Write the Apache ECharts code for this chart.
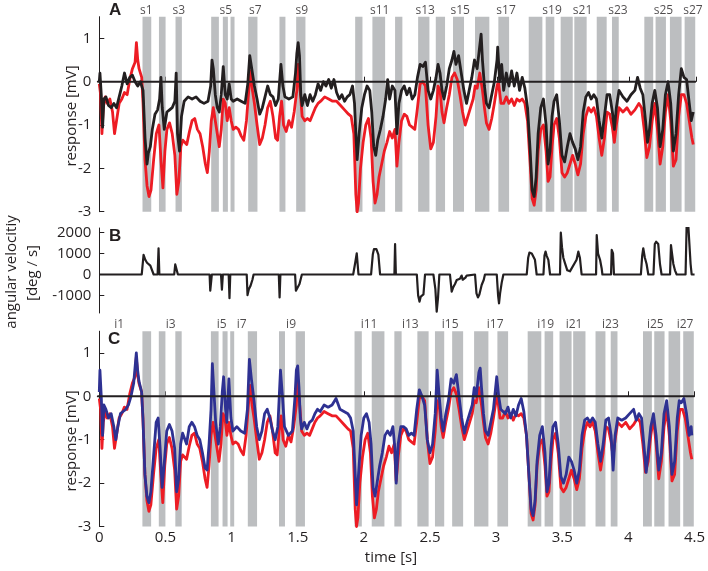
<!DOCTYPE html>
<html><head><meta charset="utf-8">
<script src="https://cdn.jsdelivr.net/npm/echarts@6/dist/echarts.min.js"></script>
<style>html,body{margin:0;padding:0;background:#fff}#c{width:708px;height:571px}</style>
</head><body><div id="c"></div>
<script>
// ---- data ----
const bands = [[0.326,0.392],[0.450,0.500],[0.575,0.623],[0.844,0.902],[0.932,0.970],[0.990,1.020],[1.123,1.193],[1.359,1.404],[1.485,1.555],[1.930,1.985],[2.060,2.156],[2.231,2.286],[2.405,2.490],[2.538,2.608],[2.668,2.751],[2.834,2.942],[3.010,3.091],[3.239,3.342],[3.367,3.432],[3.480,3.571],[3.583,3.676],[3.752,3.827],[3.867,3.918],[4.111,4.178],[4.196,4.274],[4.304,4.392],[4.415,4.495]];
const sLabelText = ['s1','s3','s5','s7','s9','s11','s13','s15','s17','s19','s21','s23','s25','s27'];
const sLabelTime = [0.354,0.600,0.954,1.176,1.527,2.115,2.458,2.722,3.068,3.415,3.645,3.912,4.255,4.478];
const iLabelText = ['i1','i3','i5','i7','i9','i11','i13','i15','i17','i19','i21','i23','i25','i27'];
const iLabelTime = [0.15,0.54,0.925,1.076,1.45,2.04,2.352,2.653,2.993,3.375,3.59,3.865,4.204,4.429];
const xTicks = [0,0.5,1,1.5,2,2.5,3,3.5,4,4.5];
const respTicks = [-3,-2,-1,0,1];
const velTicks = [-1000,0,1000,2000];

const redTrace = [[0,-0.05],[0.01,-0.3],[0.02,-1.2],[0.03,-0.6],[0.045,-0.35],[0.06,-0.5],[0.08,-0.4],[0.1,-0.7],[0.115,-1.2],[0.13,-0.9],[0.15,-0.5],[0.17,-0.4],[0.19,-0.25],[0.21,-0.3],[0.23,0.05],[0.25,0.3],[0.27,0.45],[0.28,0.9],[0.29,0.5],[0.3,0.3],[0.32,0.1],[0.33,-0.5],[0.345,-1.8],[0.36,-2.4],[0.375,-2.65],[0.39,-2.5],[0.41,-1.8],[0.43,-1.2],[0.45,-1.0],[0.465,-1.8],[0.48,-2.45],[0.495,-1.6],[0.51,-1.1],[0.53,-0.95],[0.55,-1.2],[0.57,-1.7],[0.585,-2.6],[0.6,-2.3],[0.615,-1.5],[0.63,-1.35],[0.66,-1.45],[0.68,-1.15],[0.7,-0.9],[0.72,-0.85],[0.74,-1.1],[0.76,-1.2],[0.78,-1.5],[0.8,-1.9],[0.815,-2.1],[0.83,-1.6],[0.845,-0.9],[0.86,-0.6],[0.875,-0.9],[0.89,-1.2],[0.905,-1.5],[0.92,-1.1],[0.935,-0.4],[0.95,-0.5],[0.965,-0.9],[0.98,-0.6],[0.995,-0.9],[1.01,-1.1],[1.03,-1.05],[1.05,-1.1],[1.07,-1.25],[1.09,-1.35],[1.11,-0.9],[1.13,-0.1],[1.14,0.25],[1.155,-0.2],[1.17,-0.5],[1.19,-1.0],[1.21,-1.45],[1.23,-1.3],[1.25,-1.0],[1.27,-0.6],[1.29,-0.45],[1.31,-0.8],[1.33,-1.3],[1.345,-1.35],[1.36,-0.8],[1.375,-0.45],[1.39,-1.0],[1.41,-1.15],[1.43,-0.9],[1.45,-1.05],[1.47,-0.7],[1.49,-0.2],[1.5,0.4],[1.515,-0.2],[1.53,-0.8],[1.55,-0.9],[1.57,-0.85],[1.59,-0.9],[1.61,-0.75],[1.63,-0.6],[1.65,-0.5],[1.67,-0.45],[1.7,-0.35],[1.73,-0.4],[1.76,-0.45],[1.79,-0.45],[1.82,-0.55],[1.85,-0.65],[1.88,-0.75],[1.9,-0.8],[1.92,-1.2],[1.935,-2.6],[1.945,-3.0],[1.955,-2.8],[1.97,-2.0],[1.99,-1.4],[2.01,-1.0],[2.03,-0.85],[2.05,-1.3],[2.065,-2.3],[2.08,-2.8],[2.095,-2.6],[2.11,-2.2],[2.13,-1.9],[2.15,-1.6],[2.17,-1.4],[2.19,-1.15],[2.21,-1.3],[2.23,-1.1],[2.245,-1.95],[2.26,-1.4],[2.28,-0.9],[2.3,-0.75],[2.32,-0.8],[2.34,-1.0],[2.36,-1.05],[2.38,-1.1],[2.4,-0.6],[2.42,-0.05],[2.44,0.0],[2.46,-0.1],[2.48,-1.0],[2.5,-1.55],[2.52,-1.4],[2.54,-0.8],[2.555,-0.1],[2.57,-0.2],[2.585,-0.7],[2.6,-0.95],[2.62,-0.6],[2.64,-0.3],[2.66,0.1],[2.68,0.2],[2.7,0.05],[2.72,-0.3],[2.74,-0.7],[2.76,-1.0],[2.78,-0.8],[2.8,-0.6],[2.82,-0.4],[2.835,-0.1],[2.85,-0.15],[2.87,0.2],[2.89,-0.2],[2.905,-0.6],[2.92,-0.95],[2.94,-1.1],[2.96,-0.85],[2.98,-0.5],[3.0,-0.1],[3.01,0.0],[3.03,-0.5],[3.05,-0.5],[3.07,-0.35],[3.09,-0.5],[3.11,-0.4],[3.13,-0.55],[3.15,-0.4],[3.17,-0.45],[3.19,-0.4],[3.21,-0.5],[3.23,-0.9],[3.25,-1.9],[3.265,-2.7],[3.28,-2.85],[3.295,-2.5],[3.31,-1.6],[3.33,-1.1],[3.35,-1.0],[3.37,-1.6],[3.385,-2.3],[3.4,-2.2],[3.415,-1.5],[3.43,-1.0],[3.45,-0.85],[3.47,-1.3],[3.49,-2.1],[3.51,-2.2],[3.53,-2.1],[3.55,-1.9],[3.57,-1.7],[3.59,-1.9],[3.61,-2.15],[3.63,-1.9],[3.65,-1.2],[3.67,-0.8],[3.69,-0.6],[3.71,-0.7],[3.73,-0.6],[3.75,-0.8],[3.77,-1.3],[3.79,-1.7],[3.81,-1.3],[3.83,-0.7],[3.85,-0.75],[3.87,-1.05],[3.885,-1.4],[3.9,-1.0],[3.92,-0.6],[3.95,-0.7],[3.98,-0.6],[4.01,-0.75],[4.04,-0.65],[4.07,-0.5],[4.09,-0.6],[4.11,-1.1],[4.13,-1.75],[4.15,-1.5],[4.17,-0.9],[4.19,-0.5],[4.21,-1.1],[4.23,-1.9],[4.25,-1.5],[4.27,-0.7],[4.29,-0.3],[4.31,-0.9],[4.33,-1.95],[4.35,-1.8],[4.37,-0.8],[4.39,-0.3],[4.41,-0.3],[4.43,-0.5],[4.45,-0.9],[4.47,-1.3],[4.48,-1.45]];

const blackTrace = [[0,0],[0.005,0.2],[0.015,-0.3],[0.025,-1.05],[0.035,-0.4],[0.05,-0.35],[0.07,-0.55],[0.09,-0.6],[0.11,-0.5],[0.13,-0.6],[0.15,-0.35],[0.17,-0.1],[0.19,0.2],[0.21,-0.05],[0.23,0.1],[0.25,0.15],[0.27,0],[0.29,-0.1],[0.31,0],[0.33,-0.2],[0.345,-1.3],[0.36,-1.9],[0.37,-1.65],[0.385,-1.5],[0.4,-1.1],[0.42,-0.75],[0.44,-0.65],[0.455,-0.4],[0.465,0.1],[0.475,-0.6],[0.49,-1.1],[0.51,-0.7],[0.53,-0.65],[0.55,-0.6],[0.57,-0.45],[0.58,0.2],[0.59,-1.2],[0.605,-1.6],[0.62,-0.8],[0.64,-0.45],[0.67,-0.35],[0.7,-0.4],[0.73,-0.35],[0.76,-0.45],[0.79,-0.5],[0.82,-0.45],[0.84,-0.1],[0.85,0.5],[0.86,0.3],[0.875,-0.3],[0.89,-0.6],[0.905,-0.7],[0.92,-0.3],[0.935,0.35],[0.95,-0.3],[0.965,-0.4],[0.98,-0.05],[0.995,-0.4],[1.01,-0.45],[1.04,-0.4],[1.07,-0.45],[1.1,-0.5],[1.12,-0.05],[1.135,0.6],[1.15,0.3],[1.17,-0.1],[1.19,-0.4],[1.21,-0.75],[1.23,-0.6],[1.25,-0.35],[1.27,-0.1],[1.29,-0.3],[1.31,-0.35],[1.33,-0.55],[1.35,-0.4],[1.37,0.4],[1.385,-0.1],[1.4,-0.35],[1.43,-0.4],[1.46,-0.35],[1.48,0.2],[1.49,0.65],[1.5,0.9],[1.51,0.6],[1.52,-0.3],[1.53,-0.55],[1.55,-0.3],[1.57,-0.55],[1.59,-0.3],[1.61,-0.45],[1.63,-0.3],[1.65,-0.05],[1.67,-0.2],[1.69,0],[1.71,-0.1],[1.73,0.05],[1.75,-0.15],[1.77,0.05],[1.79,-0.25],[1.81,-0.4],[1.83,-0.3],[1.85,-0.45],[1.87,-0.35],[1.89,-0.3],[1.91,-0.1],[1.925,-0.5],[1.935,-1.2],[1.945,-1.8],[1.96,-1.2],[1.98,-0.6],[2.0,-0.3],[2.02,-0.1],[2.04,-0.2],[2.055,-0.7],[2.07,-1.5],[2.085,-1.7],[2.1,-1.35],[2.12,-1.1],[2.14,-0.8],[2.16,-0.4],[2.175,0.05],[2.19,-0.4],[2.21,-0.1],[2.23,-0.2],[2.245,-1.2],[2.26,-0.5],[2.28,-0.2],[2.3,-0.1],[2.32,-0.3],[2.34,-0.15],[2.36,-0.4],[2.38,-0.3],[2.4,0.1],[2.42,0.4],[2.44,0.35],[2.46,0.45],[2.48,-0.2],[2.5,-0.4],[2.52,-0.2],[2.54,0.1],[2.555,0.4],[2.57,0.2],[2.585,-0.2],[2.6,-0.4],[2.62,-0.1],[2.64,0.3],[2.66,0.5],[2.675,0.7],[2.69,0.4],[2.71,0.6],[2.73,0.2],[2.75,-0.2],[2.77,-0.5],[2.79,-0.2],[2.81,0.1],[2.83,0.5],[2.85,0.3],[2.865,0.7],[2.88,1.1],[2.89,0.5],[2.905,-0.1],[2.92,-0.5],[2.94,-0.6],[2.96,-0.3],[2.98,0],[3.0,0.5],[3.005,0.8],[3.02,0],[3.035,0.4],[3.05,-0.2],[3.07,0.2],[3.09,-0.1],[3.11,0.25],[3.13,-0.1],[3.15,0.2],[3.17,-0.2],[3.19,0.1],[3.21,-0.15],[3.23,-0.6],[3.25,-1.6],[3.265,-2.5],[3.28,-2.65],[3.295,-2.2],[3.31,-1.2],[3.33,-0.6],[3.35,-0.4],[3.37,-1.0],[3.385,-1.9],[3.4,-1.6],[3.415,-0.8],[3.43,-0.45],[3.45,-0.3],[3.47,-0.9],[3.49,-1.7],[3.51,-1.85],[3.53,-1.5],[3.55,-1.2],[3.57,-1.4],[3.59,-1.55],[3.61,-1.8],[3.63,-1.5],[3.65,-0.7],[3.67,-0.35],[3.69,-0.25],[3.71,-0.4],[3.73,-0.3],[3.75,-0.4],[3.77,-0.9],[3.79,-1.3],[3.81,-0.8],[3.83,-0.3],[3.85,-0.3],[3.87,-0.7],[3.885,-1.1],[3.9,-0.6],[3.92,-0.2],[3.95,-0.35],[3.98,-0.45],[4.01,-0.3],[4.04,-0.2],[4.06,0.1],[4.08,-0.15],[4.1,-0.3],[4.12,-0.9],[4.135,-1.4],[4.15,-1.1],[4.17,-0.5],[4.19,-0.2],[4.21,-0.6],[4.23,-1.5],[4.25,-1.1],[4.27,-0.3],[4.29,0],[4.31,-0.5],[4.33,-1.6],[4.35,-1.2],[4.37,-0.3],[4.39,0.3],[4.41,0.1],[4.43,0.05],[4.45,-0.5],[4.465,-0.9],[4.48,-0.7]];

const blueTrace = [[0,0.1],[0.005,0.6],[0.015,0.0],[0.025,-0.9],[0.035,-0.2],[0.05,-0.3],[0.07,-0.5],[0.09,-0.4],[0.11,-0.7],[0.125,-1.0],[0.14,-0.7],[0.16,-0.4],[0.18,-0.35],[0.2,-0.3],[0.22,-0.2],[0.24,0.0],[0.26,0.3],[0.28,1.0],[0.29,0.6],[0.3,0.35],[0.32,0.1],[0.33,-0.5],[0.345,-1.8],[0.36,-2.3],[0.375,-2.45],[0.39,-2.2],[0.41,-1.4],[0.43,-0.6],[0.445,-0.5],[0.46,-1.2],[0.475,-2.1],[0.49,-1.6],[0.51,-0.8],[0.53,-0.65],[0.55,-0.8],[0.57,-1.2],[0.585,-2.2],[0.6,-1.9],[0.615,-1.1],[0.63,-0.85],[0.66,-1.1],[0.68,-0.7],[0.7,-0.6],[0.72,-0.7],[0.74,-0.9],[0.76,-1.0],[0.78,-1.3],[0.8,-1.65],[0.815,-1.7],[0.83,-1.1],[0.845,-0.3],[0.855,0.75],[0.865,0.2],[0.88,-0.6],[0.9,-1.1],[0.915,-0.7],[0.93,0.1],[0.94,0.45],[0.955,-0.3],[0.965,-0.6],[0.98,0.4],[0.995,-0.5],[1.01,-0.8],[1.04,-0.7],[1.07,-0.8],[1.1,-0.85],[1.12,-0.3],[1.135,0.85],[1.15,0.4],[1.17,-0.1],[1.19,-0.7],[1.21,-1.0],[1.23,-0.8],[1.25,-0.4],[1.27,-0.3],[1.29,-0.5],[1.31,-0.8],[1.33,-1.0],[1.35,-0.7],[1.37,0.6],[1.385,0.0],[1.4,-0.7],[1.43,-0.9],[1.46,-0.8],[1.48,0.0],[1.49,0.6],[1.5,0.7],[1.51,0.2],[1.52,-0.5],[1.53,-0.75],[1.55,-0.6],[1.57,-0.75],[1.59,-0.6],[1.61,-0.55],[1.63,-0.4],[1.65,-0.3],[1.67,-0.35],[1.7,-0.2],[1.73,-0.25],[1.76,-0.2],[1.79,-0.05],[1.82,-0.3],[1.85,-0.35],[1.88,-0.4],[1.9,-0.5],[1.92,-0.8],[1.935,-1.8],[1.945,-2.5],[1.96,-1.8],[1.98,-0.9],[2.0,-0.5],[2.02,-0.4],[2.04,-0.6],[2.055,-1.1],[2.07,-2.1],[2.085,-2.3],[2.1,-2.0],[2.12,-1.6],[2.14,-1.3],[2.16,-0.9],[2.18,-0.8],[2.2,-0.9],[2.22,-0.7],[2.235,-1.2],[2.245,-2.0],[2.26,-1.1],[2.28,-0.7],[2.3,-0.7],[2.32,-0.75],[2.34,-0.9],[2.36,-0.85],[2.38,-0.9],[2.4,-0.3],[2.42,0.15],[2.44,0.0],[2.46,-0.2],[2.48,-1.0],[2.5,-1.3],[2.52,-1.1],[2.54,-0.4],[2.555,0.6],[2.57,0.0],[2.585,-0.5],[2.6,-0.8],[2.62,-0.4],[2.64,-0.1],[2.66,0.4],[2.68,0.3],[2.7,0.5],[2.72,0.0],[2.74,-0.5],[2.76,-0.85],[2.78,-0.6],[2.8,-0.4],[2.82,-0.2],[2.835,0.2],[2.85,0.0],[2.87,0.55],[2.88,0.65],[2.89,0.2],[2.905,-0.4],[2.92,-0.8],[2.94,-0.9],[2.96,-0.6],[2.98,-0.3],[3.0,0.3],[3.005,0.45],[3.02,0.0],[3.035,-0.3],[3.05,-0.3],[3.07,-0.4],[3.09,-0.25],[3.11,-0.5],[3.13,-0.3],[3.15,-0.45],[3.17,-0.2],[3.19,-0.05],[3.21,-0.35],[3.23,-0.9],[3.25,-1.9],[3.265,-2.6],[3.28,-2.75],[3.295,-2.4],[3.31,-1.5],[3.33,-0.9],[3.35,-0.7],[3.37,-1.3],[3.385,-2.2],[3.4,-2.0],[3.415,-1.2],[3.43,-0.7],[3.45,-0.6],[3.47,-1.1],[3.49,-1.85],[3.51,-2.0],[3.53,-1.8],[3.55,-1.4],[3.57,-1.5],[3.59,-1.7],[3.61,-2.0],[3.63,-1.7],[3.65,-0.9],[3.67,-0.55],[3.69,-0.5],[3.71,-0.6],[3.73,-0.5],[3.75,-0.6],[3.77,-1.1],[3.79,-1.5],[3.81,-1.1],[3.83,-0.55],[3.85,-0.5],[3.87,-0.9],[3.885,-1.7],[3.9,-0.9],[3.92,-0.5],[3.95,-0.55],[3.98,-0.5],[4.01,-0.4],[4.04,-0.3],[4.06,-0.55],[4.08,-0.4],[4.1,-0.5],[4.12,-1.2],[4.135,-1.75],[4.15,-1.3],[4.17,-0.7],[4.19,-0.4],[4.21,-0.9],[4.23,-1.7],[4.25,-1.3],[4.27,-0.4],[4.29,-0.1],[4.31,-0.7],[4.33,-1.8],[4.35,-1.5],[4.37,-0.5],[4.385,-0.1],[4.4,-0.15],[4.42,-0.05],[4.44,-0.4],[4.46,-0.9],[4.475,-0.7],[4.48,-0.9]];

const angVel = [[0,0],[0.32,0],[0.334,930],[0.347,700],[0.36,560],[0.372,640],[0.385,420],[0.397,380],[0.41,0],[0.44,0],[0.447,1250],[0.453,0],[0.565,0],[0.573,480],[0.586,520],[0.593,0],[0.832,0],[0.837,-770],[0.849,0],[0.918,0],[0.925,-720],[0.932,0],[0.976,0],[0.982,-1130],[0.988,0],[1.112,0],[1.118,-980],[1.128,-700],[1.14,-550],[1.155,-250],[1.164,0],[1.354,0],[1.36,-1090],[1.366,0],[1.477,0],[1.483,-770],[1.495,-700],[1.51,-450],[1.528,0],[1.915,0],[1.93,550],[1.942,1010],[1.955,0],[2.05,0],[2.063,950],[2.072,1210],[2.09,1210],[2.105,950],[2.118,0],[2.226,0],[2.231,1450],[2.237,0],[2.395,0],[2.405,-1000],[2.415,-1290],[2.425,-1050],[2.445,-950],[2.457,0],[2.52,0],[2.535,-700],[2.545,-1770],[2.555,-1100],[2.565,0],[2.645,0],[2.658,-820],[2.67,-600],[2.683,-450],[2.696,-260],[2.71,-350],[2.72,-200],[2.733,-50],[2.741,-250],[2.751,-210],[2.762,-150],[2.771,-50],[2.784,0],[2.834,0],[2.845,-900],[2.856,-1090],[2.867,-950],[2.884,-500],[2.9,-250],[2.909,0],[2.998,0],[3.008,-1000],[3.015,-1370],[3.023,-900],[3.035,-400],[3.048,0],[3.224,0],[3.235,800],[3.244,1040],[3.262,1000],[3.274,930],[3.286,700],[3.299,0],[3.35,0],[3.358,900],[3.366,1090],[3.374,900],[3.387,700],[3.4,0],[3.475,0],[3.481,1990],[3.49,1300],[3.5,800],[3.513,530],[3.53,200],[3.55,150],[3.563,100],[3.6,700],[3.613,1090],[3.625,800],[3.638,0],[3.747,0],[3.752,1880],[3.762,1000],[3.777,700],[3.789,300],[3.795,0],[3.86,0],[3.865,1170],[3.875,1000],[3.882,0],[4.085,0],[4.095,900],[4.103,1250],[4.115,800],[4.128,500],[4.141,0],[4.18,0],[4.19,1450],[4.2,1560],[4.216,1450],[4.229,500],[4.241,0],[4.305,0],[4.312,1400],[4.322,900],[4.33,500],[4.342,200],[4.355,0],[4.422,0],[4.43,2300],[4.437,2450],[4.443,2300],[4.46,500],[4.468,0],[4.49,0]];

// ---- chart ----
const FONT = '"Open Sans", sans-serif';
const TXT = '#231F20';
const RED = '#ED1C24', BLACK = '#231F20', BLUE = '#2E3192', BAND = '#BCBEC0';
const XMIN = -0.015, XMAX = 4.5;
const gridL = 97.3, gridR = 708 - 695.9;

const chart = echarts.init(document.getElementById('c'));

function xAx(gi, showLabels, show) {
  return {
    type: 'value', gridIndex: gi, min: XMIN, max: XMAX, show: show,
    axisLine: {show: true, lineStyle: {color: TXT, width: 1}},
    axisTick: {show: true, inside: true, length: 5, customValues: xTicks, lineStyle: {color: TXT}},
    axisLabel: {show: showLabels, customValues: xTicks, color: TXT, fontFamily: FONT, fontSize: 15, margin: 4},
    splitLine: {show: false}
  };
}
function yAx(gi, min, max, ticks, fs) {
  return {
    type: 'value', gridIndex: gi, min: min, max: max,
    axisLine: {show: true, lineStyle: {color: TXT, width: 1}},
    axisTick: {show: true, inside: true, length: 5, customValues: ticks, lineStyle: {color: TXT}},
    axisLabel: {show: true, customValues: ticks, color: TXT, fontFamily: FONT, fontSize: fs, margin: 6, formatter: v => String(v)},
    splitLine: {show: false}
  };
}
const bandArea = {silent: true, itemStyle: {color: BAND}, data: bands.map(b => [{xAxis: b[0]}, {xAxis: b[1]}])};
const line = (name, data, color, xi, yi, w, z) => ({
  name, type: 'line', data, xAxisIndex: xi, yAxisIndex: yi, showSymbol: false, symbol: 'none',
  lineStyle: {color, width: w, join: 'round'}, itemStyle: {color}, z, animation: false
});
const labelSeries = (texts, times, xi, yi, yv) => ({
  type: 'scatter', xAxisIndex: xi, yAxisIndex: yi, clip: false, symbolSize: 1,
  itemStyle: {color: 'rgba(0,0,0,0)'}, silent: true, animation: false, z: 6,
  labelLayout: {hideOverlap: false},
  data: times.map((t, k) => ({value: [t, yv], name: texts[k]})),
  label: {show: true, position: 'top', distance: 0, formatter: p => p.name, color: TXT, fontFamily: FONT, fontSize: 12}
});

const redA = line('redA', redTrace, RED, 0, 0, 2.8, 3); redA.markArea = bandArea;
const redC = line('redC', redTrace, RED, 2, 2, 2.8, 3); redC.markArea = bandArea;

chart.setOption({
  animation: false,
  backgroundColor: '#fff',
  grid: [
    {left: gridL, right: gridR, top: 16.7, height: 195},
    {left: gridL, right: gridR, top: 228, height: 85},
    {left: gridL, right: gridR, top: 331.2, height: 195.3}
  ],
  xAxis: [xAx(0, false, true), xAx(1, false, false), xAx(2, true, true)],
  yAxis: [yAx(0, -3, 1.5, respTicks, 15), yAx(1, -1833, 2214, velTicks, 15), yAx(2, -3, 1.5, respTicks, 15)],
  series: [
    redA,
    line('blackA', blackTrace, BLACK, 0, 0, 2.8, 4),
    line('zeroA', [[XMIN, 0], [XMAX, 0]], BLACK, 0, 0, 2, 5),
    line('vel', angVel, BLACK, 1, 1, 2.2, 4),
    redC,
    line('blueC', blueTrace, BLUE, 2, 2, 2.8, 4),
    line('zeroC', [[XMIN, 0], [XMAX, 0]], BLACK, 2, 2, 2, 5),
    labelSeries(sLabelText, sLabelTime, 0, 0, 1.5),
    labelSeries(iLabelText, iLabelTime, 2, 2, 1.5)
  ],
  graphic: [
    {type: 'text', x: 109, y: 10, style: {text: 'A', font: '900 17px "Liberation Sans", Arial', fill: TXT, textVerticalAlign: 'middle'}},
    {type: 'text', x: 109, y: 236, style: {text: 'B', font: '900 17px "Liberation Sans", Arial', fill: TXT, textVerticalAlign: 'middle'}},
    {type: 'text', x: 108, y: 339, style: {text: 'C', font: '900 17px "Liberation Sans", Arial', fill: TXT, textVerticalAlign: 'middle'}},
    {type: 'text', x: 72, y: 116, rotation: Math.PI / 2, style: {text: 'response [mV]', font: '15px "Open Sans"', fill: TXT, textAlign: 'center', textVerticalAlign: 'middle'}},
    {type: 'text', x: 72, y: 441, rotation: Math.PI / 2, style: {text: 'response [mV]', font: '15px "Open Sans"', fill: TXT, textAlign: 'center', textVerticalAlign: 'middle'}},
    {type: 'text', x: 12, y: 272, rotation: Math.PI / 2, style: {text: 'angular velocitiy', font: '15px "Open Sans"', fill: TXT, textAlign: 'center', textVerticalAlign: 'middle'}},
    {type: 'text', x: 33, y: 273, rotation: Math.PI / 2, style: {text: '[deg / s]', font: '15px "Open Sans"', fill: TXT, textAlign: 'center', textVerticalAlign: 'middle'}},
    {type: 'text', x: 391, y: 558, style: {text: 'time [s]', font: '15px "Open Sans"', fill: TXT, textAlign: 'center', textVerticalAlign: 'middle'}}
  ]
});
</script></body></html>
